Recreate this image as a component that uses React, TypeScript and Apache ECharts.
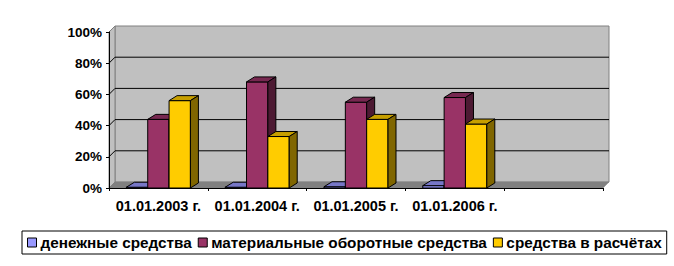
import React, { useEffect, useRef } from "react";
import * as echarts from "echarts";

const categories = ["01.01.2003 г.", "01.01.2004 г.", "01.01.2005 г.", "01.01.2006 г.", ""];
const seriesNames = ["денежные средства", "материальные оборотные средства", "средства в расчётах"];
const cashValues = [0.5, 0.5, 0.8, 1.5];
const materialValues = [44, 68, 55, 58];
const settlementValues = [56, 33, 44, 41];
const yTicks = [0, 20, 40, 60, 80, 100];
const seriesColors = ["#9999FF", "#993366", "#FFCC00"];

const FONT = 'Arial, "Liberation Sans", sans-serif';
const WALL_DX = 6;
const WALL_DY = 6;
const BAR_DX = 8;
const BAR_DY = 5;

function shade(hex: string, f: number): string {
  const n = parseInt(hex.slice(1), 16);
  const r = Math.round(((n >> 16) & 255) * f);
  const g = Math.round(((n >> 8) & 255) * f);
  const b = Math.round((n & 255) * f);
  return `rgb(${r},${g},${b})`;
}

export default function App() {
  const ref = useRef<HTMLDivElement>(null);
  useEffect(() => {
    if (!ref.current) return;
    const chart = echarts.init(ref.current, null, { renderer: "svg" });
    const allValues = [cashValues, materialValues, settlementValues];

    const wallSeries: any = {
      type: "custom",
      name: "walls",
      silent: true,
      clip: false,
      z: 1,
      data: [[0, 0]],
      renderItem: (params: any, api: any) => {
        const cs = params.coordSys;
        const x0 = cs.x;
        const x1 = cs.x + cs.width;
        const yBase = api.coord([0, 0])[1];
        const yTop = api.coord([0, 100])[1];
        const children: any[] = [];
        children.push({
          type: "rect",
          shape: { x: x0 + WALL_DX, y: yTop - WALL_DY, width: x1 - x0, height: yBase - yTop },
          style: { fill: "#C0C0C0", stroke: "#808080", lineWidth: 1 },
        });
        children.push({
          type: "polygon",
          shape: {
            points: [
              [x0, yBase],
              [x0, yTop],
              [x0 + WALL_DX, yTop - WALL_DY],
              [x0 + WALL_DX, yBase - WALL_DY],
            ],
          },
          style: { fill: "#C0C0C0", stroke: "#808080", lineWidth: 1 },
        });
        yTicks.forEach((t) => {
          if (t === 0 || t === 100) return;
          const y = api.coord([0, t])[1];
          children.push({
            type: "polyline",
            shape: {
              points: [
                [x0, y],
                [x0 + WALL_DX, y - WALL_DY],
                [x1 + WALL_DX, y - WALL_DY],
              ],
            },
            style: { stroke: "#000", lineWidth: 1, fill: "none" },
          });
        });
        children.push({
          type: "polygon",
          shape: {
            points: [
              [x0, yBase],
              [x1, yBase],
              [x1 + WALL_DX, yBase - WALL_DY],
              [x0 + WALL_DX, yBase - WALL_DY],
            ],
          },
          style: { fill: "#808080", stroke: "#808080", lineWidth: 0.5 },
        });
        return { type: "group", children };
      },
    };

    const barSeries = allValues.map((vals, si) => ({
      type: "custom",
      name: seriesNames[si],
      clip: false,
      z: 2,
      itemStyle: { color: seriesColors[si], borderColor: "#000", borderWidth: 1 },
      encode: { x: 0, y: 1 },
      data: vals.map((v, i) => [i, v]),
      renderItem: (params: any, api: any) => {
        const idx = api.value(0);
        const v = api.value(1);
        const base = api.coord([idx, 0]);
        const top = api.coord([idx, v]);
        const catW = api.size([1, 0])[0];
        const barW = catW * 0.216;
        const xl = base[0] - 1.5 * barW + si * barW;
        const xr = xl + barW;
        const yb = base[1];
        const yt = top[1];
        const c = seriesColors[si];
        const stroke = { stroke: "#000", lineWidth: 1 };
        return {
          type: "group",
          children: [
            {
              type: "polygon",
              shape: { points: [[xl, yb], [xl, yt], [xr, yt], [xr, yb]] },
              style: { fill: c, ...stroke },
            },
            {
              type: "polygon",
              shape: {
                points: [
                  [xl, yt],
                  [xl + BAR_DX, yt - BAR_DY],
                  [xr + BAR_DX, yt - BAR_DY],
                  [xr, yt],
                ],
              },
              style: { fill: shade(c, 0.78), ...stroke },
            },
            {
              type: "polygon",
              shape: {
                points: [
                  [xr, yt],
                  [xr + BAR_DX, yt - BAR_DY],
                  [xr + BAR_DX, yb - BAR_DY],
                  [xr, yb],
                ],
              },
              style: { fill: shade(c, 0.5), ...stroke },
            },
          ],
        };
      },
    }));

    chart.setOption({
      animation: false,
      backgroundColor: "#fff",
      grid: { left: 109, right: 71, top: 32, bottom: 78, containLabel: false },
      xAxis: {
        type: "category",
        data: categories,
        boundaryGap: true,
        z: 5,
        axisLine: { show: true, lineStyle: { color: "#000", width: 1 } },
        axisTick: { show: true, length: 3, alignWithLabel: false, lineStyle: { color: "#000" } },
        axisLabel: {
          color: "#000",
          fontFamily: FONT,
          fontWeight: "bold",
          fontSize: 14.5,
          margin: 10,
          interval: 0,
        },
        splitLine: { show: false },
      },
      yAxis: {
        type: "value",
        min: 0,
        max: 100,
        interval: 20,
        z: 5,
        axisLine: { show: true, lineStyle: { color: "#000", width: 1 } },
        axisTick: { show: true, length: 3, lineStyle: { color: "#000" } },
        axisLabel: {
          color: "#000",
          fontFamily: FONT,
          fontWeight: "bold",
          fontSize: 13.5,
          margin: 7,
          formatter: "{value}%",
        },
        splitLine: { show: false },
      },
      legend: {
        data: seriesNames,
        left: 22,
        top: 231,
        orient: "horizontal",
        padding: [4, 5],
        itemGap: 6,
        itemWidth: 9,
        itemHeight: 9,
        icon: "rect",
        borderColor: "#000",
        borderWidth: 1,
        backgroundColor: "#fff",
        itemStyle: { borderColor: "#000", borderWidth: 1 },
        textStyle: {
          color: "#000",
          fontFamily: FONT,
          fontWeight: "bold",
          fontSize: 15.3,
          padding: [0, 0, 0, -1],
        },
      },
      series: [wallSeries, ...barSeries],
    });
    return () => chart.dispose();
  }, []);
  return (
    <div
      ref={ref}
      style={{ position: "absolute", left: 0, top: 0, width: 674, height: 266 }}
    />
  );
}
